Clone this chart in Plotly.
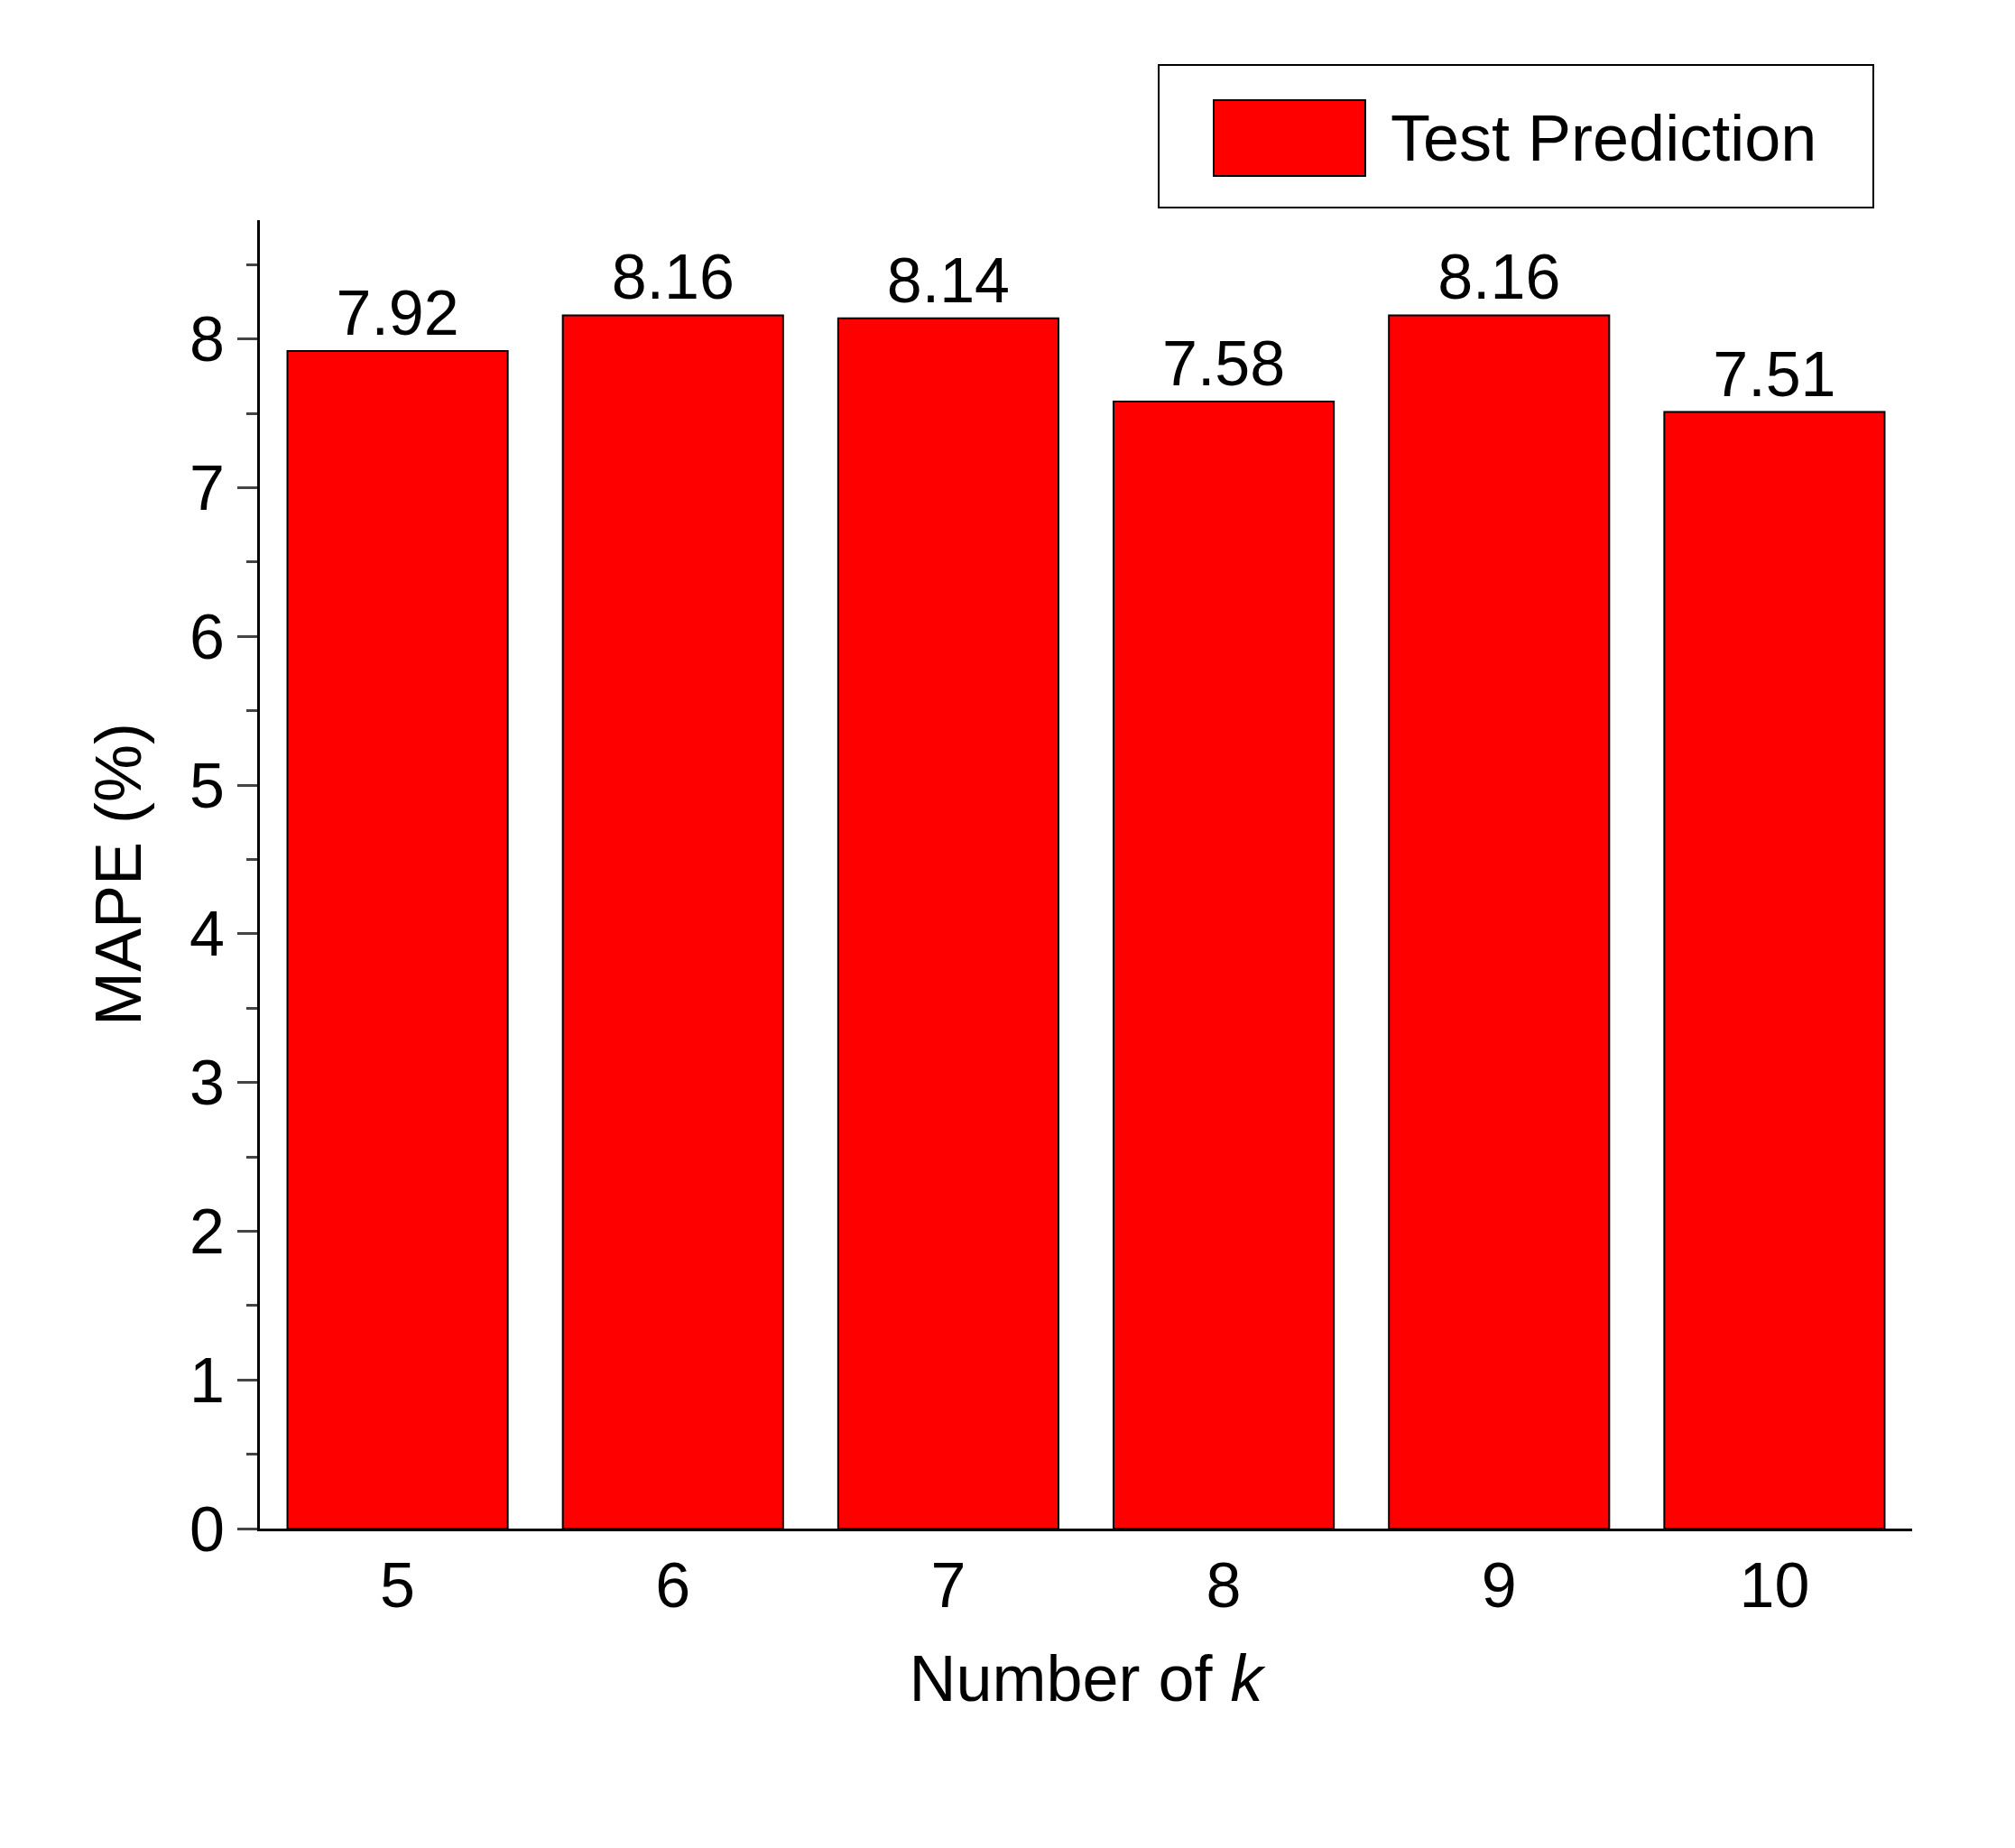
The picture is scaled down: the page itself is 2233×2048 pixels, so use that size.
import plotly.graph_objects as go

k_values = ["5", "6", "7", "8", "9", "10"]
mape = [7.92, 8.16, 8.14, 7.58, 8.16, 7.51]
y_ticks = [0, 1, 2, 3, 4, 5, 6, 7, 8]

fig = go.Figure()
fig.add_trace(go.Bar(
    x=k_values, y=mape, name="Test Prediction",
    marker=dict(color="#ff0000", line=dict(color="black", width=2)),
    width=0.8,
    text=[f"{v:.2f}" for v in mape], textposition="outside",
    textfont=dict(size=70, color="black"), cliponaxis=False,
))

# legend drawn by hand so the swatch can be large like the original
fig.add_shape(type="rect", xref="paper", yref="paper", x0=0.544, x1=0.9765, y0=1.0097, y1=1.1186,
              line=dict(color="black", width=2), fillcolor="white")
fig.add_shape(type="rect", xref="paper", yref="paper", x0=0.5773, x1=0.669, y0=1.0338, y1=1.0917,
              line=dict(color="black", width=2), fillcolor="#ff0000")
fig.add_annotation(text="Test Prediction", xref="paper", yref="paper", x=0.683, y=1.0628,
                   xanchor="left", yanchor="middle", showarrow=False, font=dict(size=72))

fig.update_layout(
    width=2233, height=2048,
    paper_bgcolor="white", plot_bgcolor="white",
    font=dict(family="Liberation Sans, Arial, sans-serif", size=70, color="black"),
    margin=dict(l=280, r=122, t=236, b=362, autoexpand=False),
    showlegend=False,
    xaxis=dict(type="category", range=[-0.5, 5.5], showline=True, linecolor="black",
               linewidth=3, ticks="", tickfont=dict(size=70),
               title=dict(text="Number of <i>k</i>", font=dict(size=72), standoff=40)),
    yaxis=dict(range=[0, 8.8], tickvals=y_ticks, showgrid=False, zeroline=False,
               showline=True, linecolor="black", linewidth=3,
               ticks="outside", ticklen=22, tickwidth=3, tickfont=dict(size=70),
               minor=dict(dtick=0.5, ticks="outside", ticklen=12, tickwidth=3),
               title=dict(text="MAPE (%)", font=dict(size=72), standoff=30)),
)

fig.write_html("out.html")
